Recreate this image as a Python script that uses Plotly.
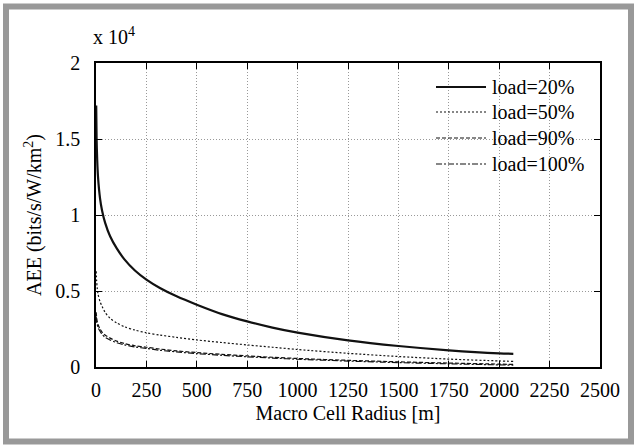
import plotly.graph_objects as go

# Macro cell radius [m]
radius_m = [1, 3, 6, 10, 20, 30, 45, 70, 103, 140, 193, 250, 317, 400, 500,
            625, 750, 875, 1000, 1250, 1500, 1750, 2000, 2070]

# AEE values in units of 10^4 bits/s/W/km^2
aee_load20 = [1.72, 1.50, 1.36, 1.25, 1.11, 1.03, 0.95, 0.86, 0.78, 0.71, 0.635, 0.575,
              0.52, 0.465, 0.41, 0.348, 0.30, 0.259, 0.226, 0.175, 0.138, 0.110, 0.090, 0.087]
aee_load50 = [0.63, 0.57, 0.52, 0.48, 0.43, 0.40, 0.36, 0.32, 0.29, 0.265, 0.243, 0.225,
              0.21, 0.195, 0.178, 0.161, 0.145, 0.13, 0.115, 0.090, 0.069, 0.052, 0.040, 0.037]
aee_load90 = [0.36, 0.33, 0.30, 0.28, 0.25, 0.23, 0.21, 0.19, 0.17, 0.155, 0.14, 0.13,
              0.118, 0.106, 0.095, 0.083, 0.073, 0.064, 0.056, 0.044, 0.034, 0.026, 0.019, 0.017]
aee_load100 = [0.33, 0.30, 0.28, 0.26, 0.235, 0.215, 0.195, 0.178, 0.16, 0.146, 0.132, 0.122,
               0.11, 0.099, 0.088, 0.077, 0.067, 0.059, 0.051, 0.039, 0.029, 0.021, 0.014, 0.012]

series_names = ["load=20%", "load=50%", "load=90%", "load=100%"]
series_values = [aee_load20, aee_load50, aee_load90, aee_load100]

x_ticks = [0, 250, 500, 750, 1000, 1250, 1500, 1750, 2000, 2250, 2500]
y_ticks = [0, 0.5, 1, 1.5, 2]
y_ticklabels = ["0", "0.5", "1", "1.5", "2"]

FONT = "Liberation Serif"
FS = 20
styles = [
    dict(width=2.2, dash="solid"),
    dict(width=1.2, dash="2px,2px"),
    dict(width=1.2, dash="4px,2px"),
    dict(width=1.2, dash="6px,2px,2px,2px"),
]

fig = go.Figure()
for name, vals, st in zip(series_names, series_values, styles):
    fig.add_trace(go.Scatter(
        x=radius_m, y=vals, mode="lines", name=name,
        line=dict(color="#111111", width=st["width"], dash=st["dash"],
                  shape="spline", smoothing=0.8),
        showlegend=False,
    ))

L, R, T, B = 96, 34, 63, 78
W, H = 634, 445
pw, ph = W - L - R, H - T - B

def px_x(px):
    return (px - L) / pw

def px_y(py):
    return (H - B - py) / ph

shapes = []
# outer grey frame
shapes.append(dict(type="rect", xref="paper", yref="paper",
                   x0=px_x(6), x1=px_x(631), y0=px_y(441.5), y1=px_y(6.5),
                   line=dict(color="#999999", width=6), fillcolor="rgba(0,0,0,0)",
                   layer="below"))
# legend background
shapes.append(dict(type="rect", xref="paper", yref="paper",
                   x0=px_x(430), x1=px_x(599), y0=px_y(177), y1=px_y(64),
                   line=dict(width=0), fillcolor="white", layer="between"))

annotations = []
leg_rows = [87, 112, 138, 164]
for name, st, row in zip(series_names, styles, leg_rows):
    shapes.append(dict(type="line", xref="paper", yref="paper",
                       x0=px_x(436), x1=px_x(486), y0=px_y(row), y1=px_y(row),
                       line=dict(color="#111111", width=st["width"], dash=st["dash"])))
    annotations.append(dict(xref="paper", yref="paper", x=px_x(490), y=px_y(row),
                            xanchor="left", yanchor="middle", text=name, showarrow=False,
                            font=dict(family=FONT, size=FS, color="black")))

annotations.append(dict(xref="paper", yref="paper", x=px_x(91), y=px_y(36),
                        xanchor="left", yanchor="middle", text="x 10<sup>4</sup>",
                        showarrow=False, font=dict(family=FONT, size=FS, color="black")))

axis_common = dict(
    showline=True, mirror="ticks", linecolor="black", linewidth=1.5,
    ticks="inside", ticklen=6, tickwidth=1, tickcolor="black",
    showgrid=True, gridcolor="#999999", gridwidth=1, griddash="1px,2px",
    zeroline=False, tickfont=dict(family=FONT, size=FS, color="black"),
)

fig.update_layout(
    width=W, height=H,
    margin=dict(l=L, r=R, t=T, b=B),
    paper_bgcolor="white", plot_bgcolor="white",
    font=dict(family=FONT, size=FS, color="black"),
    showlegend=False,
    shapes=shapes, annotations=annotations,
    xaxis=dict(range=[0, 2500], tickvals=x_ticks, ticklabelstandoff=4,
               title=dict(text="Macro Cell Radius [m]", standoff=6,
                          font=dict(family=FONT, size=FS)),
               **axis_common),
    yaxis=dict(range=[0, 2], tickvals=y_ticks, ticktext=y_ticklabels,
               ticklabelstandoff=10,
               title=dict(text="AEE (bits/s/W/km<sup>2</sup>)", standoff=8,
                          font=dict(family=FONT, size=FS)),
               **axis_common),
)

fig.write_html("out.html", config={"displayModeBar": False},
               post_script="document.body.style.margin='0px';")
